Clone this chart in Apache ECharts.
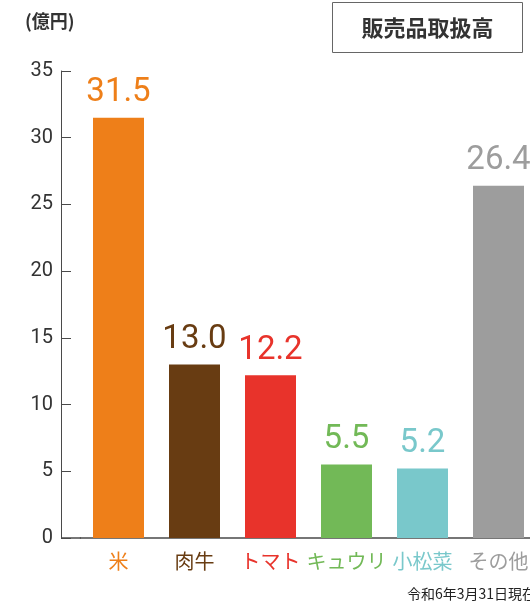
<!DOCTYPE html>
<html>
<head>
<meta charset="utf-8">
<script src="https://cdn.jsdelivr.net/npm/echarts@6/dist/echarts.min.js"></script>
<style>
  html, body { margin: 0; padding: 0; background: #fff; }
  #main { width: 530px; height: 603px; }
</style>
</head>
<body>
<div id="main"></div>
<script>
// 販売品取扱高（億円）
var categories = ['米', '肉牛', 'トマト', 'キュウリ', '小松菜', 'その他'];
var values = [31.5, 13.0, 12.2, 5.5, 5.2, 26.4];
var barColors = ['#ee7f19', '#683c12', '#e8332b', '#72b957', '#79c8cb', '#9d9d9d'];

var chart = echarts.init(document.getElementById('main'), null, { renderer: 'canvas' });

var jpFont = '"Noto Sans CJK JP", "Noto Sans", sans-serif';
var numFont = 'Roboto, "Noto Sans", sans-serif';

var option = {
  animation: false,
  backgroundColor: '#fff',
  grid: {
    left: 80.5,
    width: 456,
    top: 71,
    bottom: 65,
    containLabel: false,
    outerBoundsMode: 'none'
  },
  xAxis: {
    type: 'category',
    data: categories.map(function (name, i) {
      return { value: name, textStyle: { color: barColors[i] } };
    }),
    axisLine: { show: true, lineStyle: { color: '#4a4a4a', width: 1.5 } },
    axisTick: { show: false },
    axisLabel: {
      interval: 0,
      margin: 13,
      fontSize: 20,
      fontFamily: jpFont
    }
  },
  yAxis: {
    type: 'value',
    min: 0,
    max: 35,
    interval: 5,
    offset: 19.5,
    axisLine: { show: true, lineStyle: { color: '#4a4a4a', width: 1 } },
    axisTick: { show: true, inside: true, length: 10, lineStyle: { color: '#4a4a4a' } },
    splitLine: { show: false },
    axisLabel: {
      margin: 8,
      fontSize: 20,
      color: '#333',
      fontFamily: numFont
    }
  },
  graphic: [
    {
      type: 'line',
      shape: { x1: 61, y1: 538, x2: 81, y2: 538 },
      style: { stroke: '#4a4a4a', lineWidth: 1.5 }
    },
    {
      type: 'text',
      left: 25,
      top: 12,
      style: { text: '(億円)', fontSize: 18, fontWeight: 'bold', fill: '#333', fontFamily: jpFont }
    },
    {
      type: 'rect',
      shape: { x: 332.5, y: 2.5, width: 190, height: 50 },
      style: { fill: '#fff', stroke: '#666', lineWidth: 1 }
    },
    {
      type: 'text',
      x: 427.5,
      y: 27.5,
      style: {
        text: '販売品取扱高', fontSize: 22, fontWeight: 'bold', fill: '#333',
        fontFamily: jpFont, align: 'center', verticalAlign: 'middle'
      }
    },
    {
      type: 'text',
      x: 407,
      y: 587,
      style: { text: '令和6年3月31日現在', fontSize: 14, fill: '#222', fontFamily: jpFont }
    }
  ],
  series: [
    {
      type: 'bar',
      barWidth: 51,
      data: values.map(function (v, i) {
        return {
          value: v,
          itemStyle: { color: barColors[i] },
          label: { color: barColors[i] }
        };
      }),
      label: {
        show: true,
        position: 'top',
        distance: 8,
        fontSize: 33,
        fontFamily: numFont,
        formatter: function (p) { return p.value.toFixed(1); }
      }
    }
  ]
};

chart.setOption(option);
</script>
</body>
</html>
